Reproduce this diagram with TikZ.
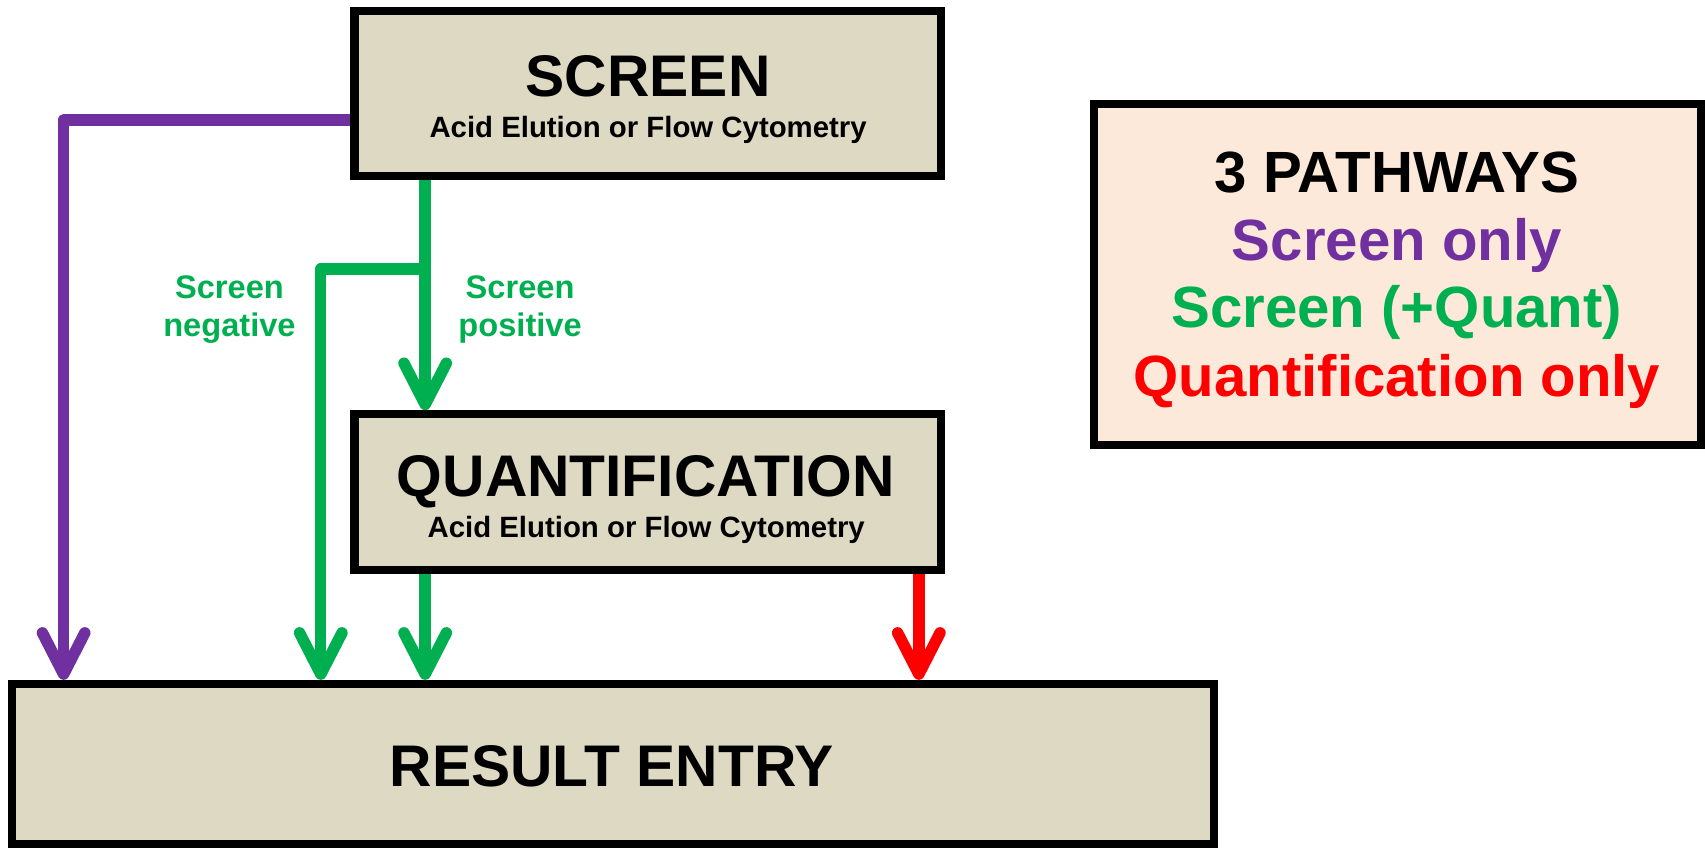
\documentclass[tikz,border=0pt]{standalone}
\usepackage{fontspec}
\setmainfont{Liberation Sans}
\usetikzlibrary{arrows.meta,calc}
\definecolor{cpurple}{HTML}{7030A0}
\definecolor{cgreen}{HTML}{00B050}
\definecolor{cred}{HTML}{FF0000}
\definecolor{boxtan}{HTML}{DDD9C3}
\definecolor{peach}{HTML}{FDE9D9}
\begin{document}
\begin{tikzpicture}[x=1pt,y=-1pt,
  box/.style={draw=black,line width=7.5pt,fill=boxtan,inner sep=0pt},
  legendbox/.style={draw=black,line width=7.5pt,fill=peach,inner sep=0pt},
  conn/.style={line width=10.5pt,line join=round,
    -{Straight Barb[length=38pt,width=39pt,round]}},
  bigtext/.style={font=\bfseries\fontsize{54}{60}\selectfont,inner sep=0pt,anchor=base},
  subtext/.style={font=\bfseries\fontsize{27}{30}\selectfont,inner sep=0pt,anchor=base},
  lbltext/.style={font=\bfseries\fontsize{30}{34}\selectfont,inner sep=0pt,anchor=base,text=cgreen},
  legtext/.style={font=\bfseries\fontsize{53.5}{60}\selectfont,inner sep=0pt,anchor=base}
]
\useasboundingbox (0,0) rectangle (1568,780);

% boxes
\node[box,minimum width=539pt,minimum height=152pt] (scr) at (595.5,86) {};
\node[box,minimum width=539pt,minimum height=143pt] (qua) at (595.5,452.5) {};
\node[box,minimum width=1105.5pt,minimum height=147pt] (res) at (563.75,702.5) {};
\node[legendbox,minimum width=558pt,minimum height=313.5pt] (leg) at (1285,252.75) {};

% box texts
\node[bigtext] (scrT) at (596,89) {SCREEN};
\node[subtext] (scrS) at (596,126) {Acid Elution or Flow Cytometry};
\node[bigtext] (quaT) at (594,456.4) {QUANTIFICATION};
\node[subtext] (quaS) at (594.3,494) {Acid Elution or Flow Cytometry};
\node[bigtext] (resT) at (562.5,723) {RESULT ENTRY};

% legend texts
\node[legtext] (leg1) at (1284.6,177.2) {3 PATHWAYS};
\node[legtext,text=cpurple] (leg2) at (1284.6,239.2) {Screen only};
\node[legtext,text=cgreen] (leg3) at (1284.6,301.1) {Screen (+Quant)};
\node[legtext,text=cred] (leg4) at (1284.6,364.3) {Quantification only};

% branch labels
\node[lbltext] (neg1) at (211,274.3) {Screen};
\node[lbltext] (neg2) at (211,309.6) {negative};
\node[lbltext] (pos1) at (478.3,274.3) {Screen};
\node[lbltext] (pos2) at (478.3,309.6) {positive};

% x positions of connectors
\coordinate (xp) at (58.5,0);
\coordinate (xn) at (295,0);
\coordinate (xg) at (391,0);
\coordinate (xr) at (845,0);
\coordinate (br) at (391,247.5);

% connectors
\draw[conn,cpurple] (scr.west |- 0,110.2) -| (res.north -| xp);
\draw[conn,cgreen] (scr.south -| xg) -- (qua.north -| xg);
\draw[conn,cgreen] (br) -| (res.north -| xn);
\draw[conn,cgreen] (qua.south -| xg) -- (res.north -| xg);
\draw[conn,cred] (qua.south -| xr) -- (res.north -| xr);
\end{tikzpicture}
\end{document}
